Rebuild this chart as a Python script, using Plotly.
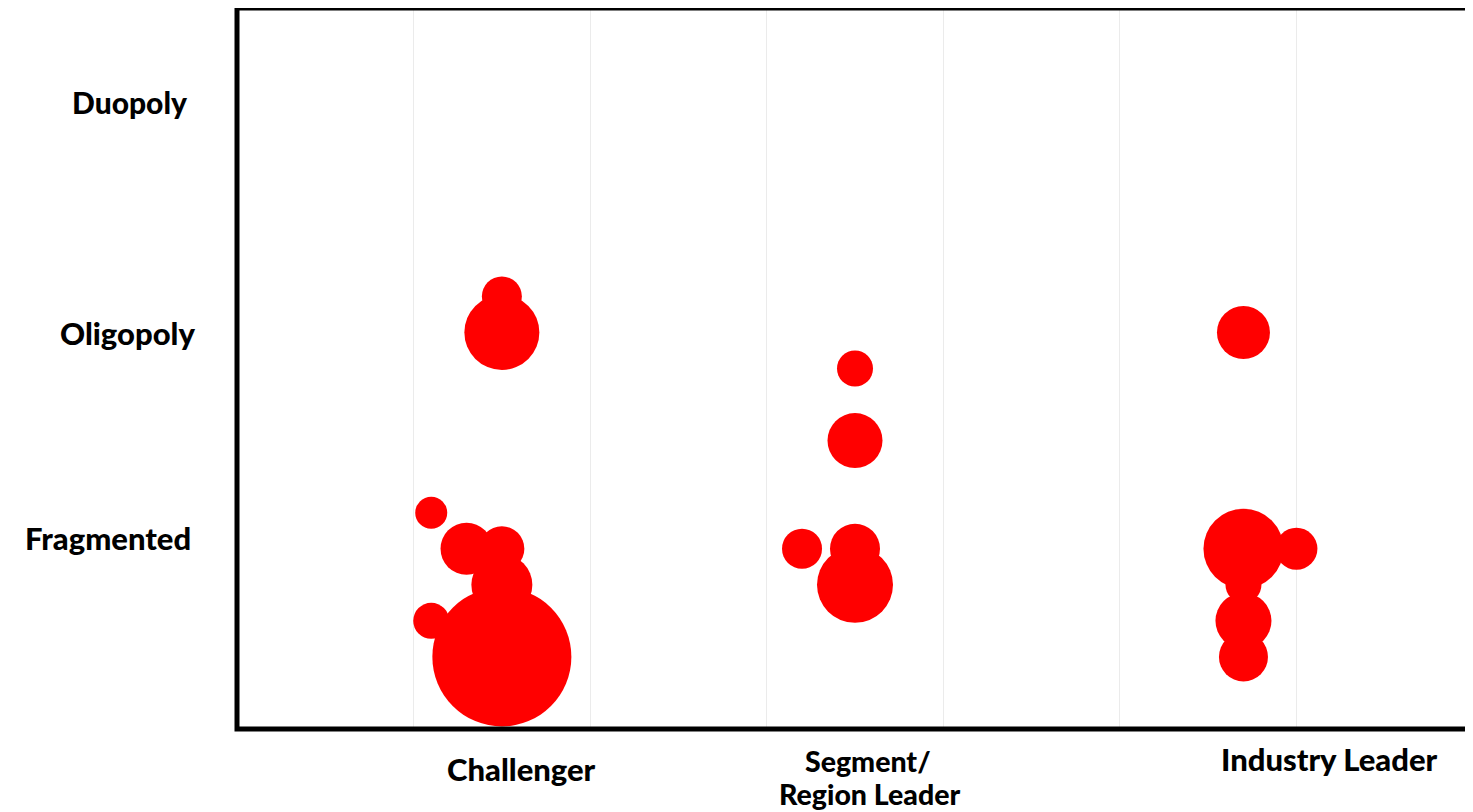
import plotly.graph_objects as go

# Bubble data per group (x position, y position, bubble diameter)
challenger_x = [1.5, 1.5, 1.1, 1.3, 1.5, 1.5, 1.1, 1.5]
challenger_y = [12, 11, 6, 5, 5, 4, 3, 2]
challenger_size = [40, 75, 32, 52, 45, 61, 36, 139]

segment_x = [3.5, 3.5, 3.2, 3.5, 3.5]
segment_y = [10, 8, 5, 5, 4]
segment_size = [36, 55, 40, 50, 76]

industry_x = [5.7, 5.7, 6.0, 5.7, 5.7, 5.7]
industry_y = [11, 5, 5, 4, 3, 2]
industry_size = [53, 80, 42, 36, 56, 49]

# Category labels
x_labels = ["Challenger", "Segment/", "Region Leader", "Industry Leader"]
x_label_pos = [1.61, 3.572, 3.58, 6.186]
y_labels = ["Duopoly", "Oligopoly", "Fragmented"]
y_label_pos = [17.38, 10.98, 5.29]

FONT = "Lato"
fig = go.Figure()
for xs, ys, ss in [(challenger_x, challenger_y, challenger_size),
                   (segment_x, segment_y, segment_size),
                   (industry_x, industry_y, industry_size)]:
    fig.add_trace(go.Scatter(
        x=xs, y=ys, mode="markers",
        marker=dict(size=ss, sizemode="diameter", sizeref=1, color="#FF0000",
                    opacity=1, line=dict(width=0)),
        cliponaxis=False, showlegend=False, hoverinfo="skip"))

annotations = []
label_x_shift = [-47.5, -40.5, -44.5]
label_y_size = [30, 31, 31]
for lab, yp, xo, fs in zip(y_labels, y_label_pos, label_x_shift, label_y_size):
    annotations.append(dict(text=lab, x=0, xref="paper", y=yp, yref="y",
                            xanchor="right", yanchor="middle", xshift=xo,
                            showarrow=False,
                            font=dict(family=FONT, size=fs, color="black", weight=900)))
x_label_shift = [-40, -32, -65, -30]
x_label_size = [31, 28.5, 28.5, 31]
for lab, xp, ys, fs in zip(x_labels, x_label_pos, x_label_shift, x_label_size):
    annotations.append(dict(text=lab, x=xp, xref="x", y=0, yref="paper", yshift=ys,
                            xanchor="center", yanchor="middle", showarrow=False,
                            align="center",
                            font=dict(family=FONT, size=fs, color="black", weight=900)))

fig.update_layout(
    width=1465, height=804,
    margin=dict(l=228.5, r=0, t=0, b=82.5),
    paper_bgcolor="white", plot_bgcolor="white",
    annotations=annotations,
    shapes=[dict(type="rect", xref="paper", yref="paper", x0=0, x1=1, y0=0, y1=1,
                 line=dict(color="black", width=5), fillcolor="rgba(0,0,0,0)",
                 layer="above")],
    xaxis=dict(range=[0, 7], dtick=1, showgrid=True, gridcolor="#ebebeb", gridwidth=1,
               showticklabels=False, ticks="", zeroline=False, showline=False),
    yaxis=dict(range=[0, 20], showgrid=False, showticklabels=False, ticks="",
               zeroline=False, showline=False),
)

fig.write_html("out.html")
